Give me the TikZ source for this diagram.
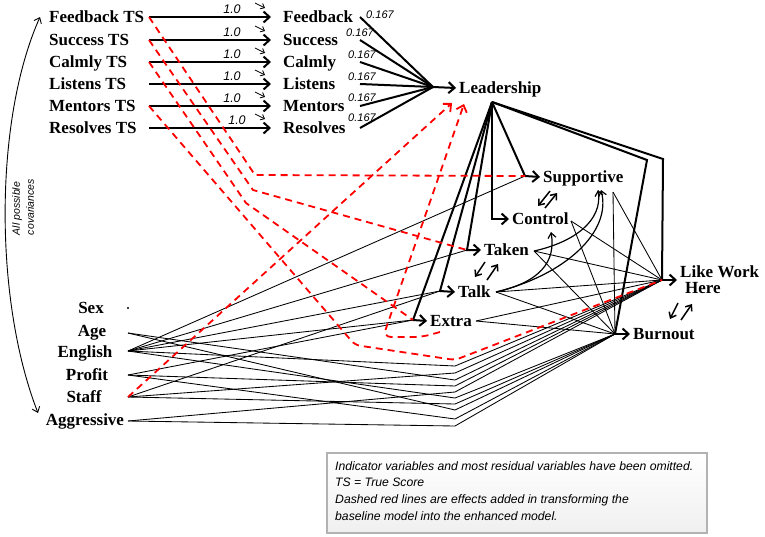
\documentclass[tikz,border=0pt]{standalone}
\usepackage{fontspec}
\setmainfont{Liberation Serif}
\newfontfamily\sansf{Liberation Sans}
\usetikzlibrary{arrows.meta}
\begin{document}
\begin{tikzpicture}[x=1pt,y=-1pt,
  lab/.style={font=\fontsize{17}{20}\selectfont\bfseries, inner sep=0pt, text height=11.5pt, text depth=0pt},
  coef/.style={font=\sansf\itshape\fontsize{11}{13}\selectfont, inner sep=0pt},
  onelab/.style={font=\sansf\itshape\fontsize{12.5}{14}\selectfont, inner sep=0pt},
  thk/.style={line width=2pt},
  thn/.style={line width=0.85pt},
  rd/.style={red, line width=1.8pt, dash pattern=on 7pt off 5pt},
  arw/.style={-{Straight Barb[length=6pt,width=11pt]}},
  sarw/.style={-{Straight Barb[length=3.5pt,width=6pt]}},
  marw/.style={-{Straight Barb[length=5pt,width=8pt]}},
]
\useasboundingbox (0,0) rectangle (765,536);

% ---------- TS rows ----------
\foreach \y/\lbl/\nm in {17/Feedback/fb,40/Success/su,62/Calmly/ca,84/Listens/li,106/Mentors/me,128/Resolves/re}{
  \node[lab,anchor=west] (\nm-ts) at (49,\y) {\lbl\ TS};
  \node[lab,anchor=west] (\nm) at (283,\y) {\lbl};
  \coordinate (\nm-o) at (149,\y);
  \coordinate (\nm-i) at (360,\y);
  \draw[thk,arw] (\nm-o) -- ([xshift=-12pt]\nm.west);
  \draw[thn,sarw] (255,\y-14) -- (265,\y-9);
}
\foreach \y in {17,40,62,84,106}{\node[onelab] at (232,\y-8) {1.0};}
\node[onelab] at (237,120) {1.0};
\node[coef] at (380,15) {0.167};
\node[coef] at (360,33) {0.167};
\node[coef] at (362,55) {0.167};
\node[coef] at (362,77) {0.167};
\node[coef] at (362,98) {0.167};
\node[coef] at (362,118) {0.167};

% ---------- latent / mediators / outcomes ----------
\node[lab,anchor=west] (ld) at (459,88) {Leadership};
\node[lab,anchor=west] (sup) at (543,177) {Supportive};
\node[lab,anchor=west] (con) at (512,219) {Control};
\node[lab,anchor=west] (tak) at (484,250) {Taken};
\node[lab,anchor=west] (tlk) at (458,292) {Talk};
\node[lab,anchor=west] (ext) at (430,321) {Extra};
\node[lab,anchor=west] (brn) at (633,334) {Burnout};
\node[lab,anchor=west] (lk1) at (680,272) {Like Work};
\node[lab,anchor=west] (lk2) at (685,288) {Here};

% ---------- covariates ----------
\node[lab] (sex) at (91,308) {Sex};
\node[lab] (age) at (92,331) {Age};
\node[lab] (eng) at (85,352) {English};
\node[lab] (prf) at (87,375) {Profit};
\node[lab] (stf) at (84,397) {Staff};
\node[lab] (agg) at (85,420) {Aggressive};
\fill (128,308) circle (1.1pt);

% ---------- junctions ----------
\coordinate (cL) at (433,87);
\coordinate (ldB) at (492,102);
\coordinate (jSup) at (525,176);
\coordinate (jCon) at (492,219);
\coordinate (jTak) at (467,250);
\coordinate (jTalk) at (440,291);
\coordinate (jExt) at (413,320);
\coordinate (jLike) at (662,280);
\coordinate (jBurn) at (615,334);
\coordinate (sO) at (613,192);
\coordinate (cO) at (571,221);
\coordinate (tO) at (534,251);
\coordinate (kO) at (496,292);
\coordinate (eO) at (476,321);
\coordinate (ageO) at (128,333);
\coordinate (engO) at (128,351);
\coordinate (prfO) at (128,375);
\coordinate (stfO) at (128,397);
\coordinate (aggO) at (128,421);

% ---------- thin lines: covariates ----------
\foreach \t in {jSup,jTak,jTalk,jExt}{\draw[thn] (engO) -- (\t);}
\draw[thn] (prfO) -- (jExt);
\draw[thn] (stfO) -- (jTalk);
\foreach \o/\b/\t in {ageO/380/jLike, ageO/410/jBurn, engO/366/jLike, engO/398/jBurn,
                      prfO/386/jLike, prfO/419/jBurn, stfO/373/jLike, stfO/404/jBurn,
                      aggO/392/jLike, aggO/426/jBurn}{
  \draw[thn] (\o) -- (455,\b) -- (\t);
}

% ---------- thin lines: mediators to outcomes ----------
\foreach \s in {sO,cO,tO,kO,eO}{
  \draw[thn] (\s) -- (jLike);
  \draw[thn] (\s) -- (jBurn);
}
\draw[line width=1.2pt,marw] (tO) .. controls (575,242) and (603,220) .. (598,190);
\draw[line width=1.2pt,marw] (kO) .. controls (565,275) and (612,232) .. (601,190);
\draw[line width=1.2pt,marw] (kO) .. controls (540,282) and (556,262) .. (551,232);

% reciprocal pairs
\draw[line width=1.5pt,marw] (550,191) -- (538,206);
\draw[line width=1.5pt,marw] (545,208) -- (557,193);
\draw[line width=1.5pt,marw] (485,262) -- (475,277);
\draw[line width=1.5pt,marw] (487,280) -- (498,264);
\draw[line width=1.5pt,marw] (678,303) -- (670,319);
\draw[line width=1.5pt,marw] (681,320) -- (692,304);

% ---------- thick lines ----------
\foreach \nm in {fb,su,ca,li,me,re}{\draw[thk] (\nm-i) -- (cL);}
\draw[thk,arw] (cL) -- ([xshift=-3pt]ld.west);
\draw[thk] (ldB) -- (663,159) -- (jLike);
\draw[thk] (ldB) -- (647,160) -- (jBurn);
\draw[thk,arw] (ldB) -- (jSup) -- ([xshift=-3pt]sup.west);
\draw[thk,arw] (ldB) -- (jCon) -- ([xshift=-3pt]con.west);
\draw[thk,arw] (ldB) -- (jTak) -- ([xshift=-3pt]tak.west);
\draw[thk,arw] (ldB) -- (jTalk) -- ([xshift=-3pt]tlk.west);
\draw[thk,arw] (ldB) -- (jExt) -- ([xshift=-3pt]ext.west);
\draw[thk,arw] (jLike) -- ([xshift=-3pt]lk1.west |- jLike);
\draw[thk,arw] (jBurn) -- ([xshift=-3pt]brn.west);

% ---------- red dashed effects ----------
\draw[rd] (fb-o) -- (255,175) -- (jSup);
\draw[rd] (su-o) -- (253,190) -- (jTak);
\draw[rd] (ca-o) -- (246,203) -- (jExt);
\draw[rd,rounded corners=5pt] (me-o) -- (355,345) -- (455,360) -- (jLike);
\draw[rd,arw] (stfO) -- (452,103);
\draw[rd,arw,rounded corners=8pt] (440,332) -- (422,337) -- (383,337) -- (464,104);

% ---------- covariance arc ----------
\draw[line width=0.9pt,{Straight Barb[length=5pt,width=8pt]}-{Straight Barb[length=5pt,width=8pt]}]
  (38,413) .. controls (-6,300) and (-6,120) .. (40,17);
\node[font=\sansf\itshape\fontsize{10.5}{14}\selectfont, rotate=90, align=left, inner sep=0pt] (cov) at (23,207) {All possible\\covariances};

% ---------- note box ----------
\draw[gray!60, line width=1.2pt, top color=white, bottom color=gray!12] (327,453) rectangle (707,533);
\node[anchor=north west, align=left, inner sep=0pt, font=\sansf\itshape\fontsize{12.2}{16.7}\selectfont] (note) at (335,461)
 {Indicator variables and most residual variables have been omitted.\\
  TS = True Score\\
  Dashed red lines are effects added in transforming the\\
  baseline model into the enhanced model.};
\end{tikzpicture}
\end{document}
